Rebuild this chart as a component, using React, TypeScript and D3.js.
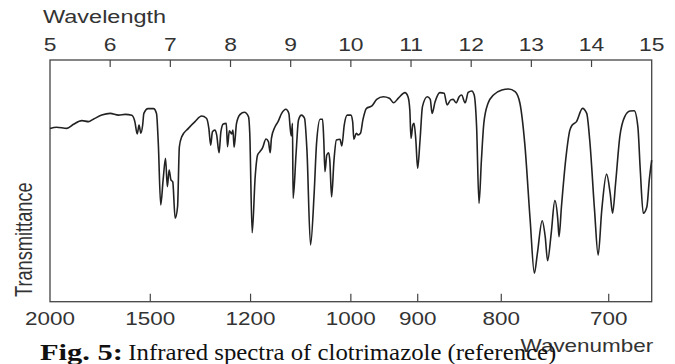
import React from "react";
import * as d3 from "d3";

// Spectrum: wavelength (µm) and transmittance (% of frame height)
const wavelength = [
  5.0, 5.11, 5.28, 5.39, 5.53, 5.64, 5.72, 5.86, 6.0, 6.14, 6.25, 6.36, 6.41, 6.45, 6.48, 6.51, 6.54, 6.56, 6.63, 6.72,
  6.77, 6.8, 6.84, 6.88, 6.92, 6.95, 6.98, 7.01, 7.04, 7.08, 7.12, 7.15, 7.19, 7.3, 7.41, 7.52, 7.6, 7.64, 7.67, 7.7,
  7.74, 7.77, 7.81, 7.84, 7.88, 7.93, 7.95, 7.98, 8.02, 8.04, 8.06, 8.1, 8.16, 8.23, 8.3, 8.32, 8.36, 8.41, 8.45, 8.49,
  8.53, 8.59, 8.63, 8.66, 8.68, 8.74, 8.79, 8.85, 8.92, 8.97, 8.99, 9.01, 9.03, 9.04, 9.09, 9.13, 9.18, 9.23, 9.27, 9.33,
  9.39, 9.43, 9.49, 9.53, 9.55, 9.57, 9.6, 9.63, 9.65, 9.68, 9.72, 9.76, 9.82, 9.85, 9.89, 9.94, 10.0, 10.03, 10.05, 10.09,
  10.12, 10.16, 10.2, 10.26, 10.35, 10.43, 10.54, 10.64, 10.71, 10.79, 10.9, 10.95, 10.98, 11.0, 11.03, 11.05, 11.08, 11.11, 11.15, 11.19,
  11.27, 11.32, 11.35, 11.4, 11.48, 11.55, 11.6, 11.66, 11.7, 11.75, 11.8, 11.84, 11.9, 11.95, 12.01, 12.05, 12.09, 12.13, 12.17, 12.21,
  12.28, 12.37, 12.51, 12.62, 12.73, 12.81, 12.89, 12.98, 13.05, 13.1, 13.18, 13.23, 13.27, 13.33, 13.39, 13.44, 13.46, 13.5, 13.57, 13.64,
  13.68, 13.75, 13.85, 13.92, 13.97, 14.05, 14.11, 14.17, 14.25, 14.31, 14.35, 14.4, 14.47, 14.55, 14.64, 14.71, 14.77, 14.81, 14.86, 14.92,
  14.96, 15.0,
];
const transmittance = [
  71.7, 72.2, 71.7, 73.4, 74.9, 74.5, 75.5, 77.2, 77.9, 77.2, 77.5, 77.1, 74.5, 69.4, 73.1, 69.7, 73.1, 77.9, 79.9, 79.9,
  77.9, 65.5, 40.0, 50.4, 59.3, 47.6, 54.5, 50.4, 49.6, 34.5, 39.3, 64.1, 68.3, 71.7, 74.5, 76.8, 75.9, 71.7, 64.8, 70.3,
  71.0, 69.0, 61.6, 70.3, 73.5, 73.8, 64.1, 70.7, 69.4, 71.0, 63.9, 73.8, 77.5, 78.4, 76.5, 69.7, 28.5, 51.7, 60.7, 62.1,
  63.5, 67.3, 66.2, 61.6, 67.6, 72.4, 74.5, 77.9, 79.6, 77.9, 72.4, 68.6, 73.8, 42.8, 61.4, 75.2, 77.2, 75.9, 62.8, 23.5,
  44.8, 65.5, 75.5, 75.5, 66.9, 53.8, 60.7, 61.6, 58.6, 43.4, 58.6, 66.9, 67.2, 64.4, 73.1, 77.2, 77.2, 74.5, 67.2, 69.7,
  69.0, 69.7, 75.2, 80.0, 81.0, 83.7, 84.8, 84.2, 82.3, 84.2, 86.5, 84.8, 79.3, 67.6, 73.1, 73.8, 66.9, 55.2, 66.9, 80.7,
  84.8, 83.7, 77.9, 82.7, 86.5, 86.2, 81.4, 83.5, 83.7, 82.3, 84.8, 85.5, 82.3, 86.6, 87.2, 85.5, 72.4, 40.7, 58.6, 73.8,
  82.1, 85.5, 87.6, 88.0, 86.9, 82.1, 65.5, 33.8, 11.8, 20.0, 33.5, 26.9, 17.0, 28.3, 41.8, 33.8, 26.9, 39.3, 58.6, 71.0,
  73.1, 74.5, 80.0, 77.9, 66.9, 37.9, 19.3, 37.9, 52.8, 44.8, 36.6, 49.0, 68.3, 76.5, 78.9, 79.0, 72.4, 54.5, 36.6, 39.3,
  50.4, 58.6,
];

const wavelengthTicks = [5, 6, 7, 8, 9, 10, 11, 12, 13, 14, 15];
const wavenumberTicks = [2000, 1500, 1200, 1000, 900, 800, 700];

const topTitle = "Wavelength";
const bottomTitle = "Wavenumber";
const yTitle = "Transmittance";
const captionBold = "Fig. 5:";
const captionText = "Infrared spectra of clotrimazole (reference)";

const W = 675;
const H = 364;
const left = 50;
const right = 651.7;
const top = 60;
const bottom = 301.7;
const SX = 1.27; // horizontal stretch of the sans text
const sans = "'Liberation Sans', Arial, Helvetica, sans-serif";
const serif = "'Liberation Serif', 'Times New Roman', serif";
const ink = "#333";

export default function App() {
  const x = d3.scaleLinear().domain([5, 15]).range([left, right]);
  const y = d3.scaleLinear().domain([0, 100]).range([bottom, top]);
  const pts: [number, number][] = wavelength.map((w, i) => [w, transmittance[i]]);
  const line = d3
    .line<[number, number]>()
    .x((d) => x(d[0]))
    .y((d) => y(d[1]))
    .curve(d3.curveMonotoneX);

  return (
    <svg
      width={W}
      height={H}
      style={{ position: "absolute", left: 0, top: 0, background: "#fff" }}
    >
      <rect x={0} y={0} width={W} height={H} fill="#fff" />
      {/* frame */}
      <rect
        x={left}
        y={top}
        width={right - left}
        height={bottom - top}
        fill="none"
        stroke="#444"
        strokeWidth={1.3}
      />
      {/* top ticks */}
      {wavelengthTicks.map((t) => (
        <g key={"t" + t}>
          {t > 5 && t < 15 && (
            <line x1={x(t)} x2={x(t)} y1={top} y2={top + 7} stroke="#444" strokeWidth={1.2} />
          )}
          <text
            transform={`translate(${x(t)},${50.7}) scale(${SX},1)`}
            textAnchor="middle"
            fontFamily={sans}
            fontSize={18}
            fill={ink}
          >
            {t}
          </text>
        </g>
      ))}
      {/* bottom ticks */}
      {wavenumberTicks.map((n) => {
        const xv = x(10000 / n);
        return (
          <g key={"b" + n}>
            {n < 2000 && (
              <line x1={xv} x2={xv} y1={bottom} y2={bottom - 8} stroke="#444" strokeWidth={1.2} />
            )}
            <text
              transform={`translate(${xv},${325}) scale(${SX},1)`}
              textAnchor="middle"
              fontFamily={sans}
              fontSize={17.7}
              fill={ink}
            >
              {n}
            </text>
          </g>
        );
      })}
      {/* spectrum */}
      <path d={line(pts) ?? ""} fill="none" stroke="#222" strokeWidth={1.6} strokeLinejoin="round" />
      {/* titles */}
      <text
        transform={`translate(43,23.3) scale(${SX},1)`}
        fontFamily={sans}
        fontSize={18.5}
        fill={ink}
      >
        {topTitle}
      </text>
      <text
        transform={`translate(653.3,351.7) scale(${SX},1)`}
        textAnchor="end"
        fontFamily={sans}
        fontSize={17.7}
        fill={ink}
      >
        {bottomTitle}
      </text>
      <text
        transform={`translate(31.5,297) scale(${SX},1) rotate(-90)`}
        fontFamily={sans}
        fontSize={18.2}
        fill={ink}
      >
        {yTitle}
      </text>
      {/* caption */}
      <text
        x={40}
        y={360}
        fontFamily={serif}
        fontWeight="bold"
        fontSize={22.5}
        fill="#111"
        textLength={83}
        lengthAdjust="spacingAndGlyphs"
      >
        {captionBold}
      </text>
      <text
        x={128.3}
        y={360}
        fontFamily={serif}
        fontSize={22.5}
        fill="#111"
        textLength={428}
        lengthAdjust="spacingAndGlyphs"
      >
        {captionText}
      </text>
    </svg>
  );
}
